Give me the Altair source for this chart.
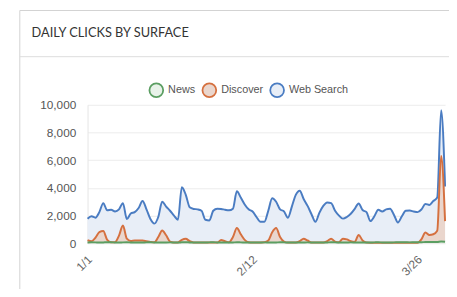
import altair as alt
import pandas as pd

# ---- data -------------------------------------------------------------
dates = [d.strftime("%Y/%m/%d") for d in pd.date_range("2023-01-01", periods=92)]

web_search = [
    1770, 1950, 1850, 2250, 2900, 2380, 2420, 2300, 2450, 2900,
    1750, 2150, 2250, 2550, 3050, 2450, 1750, 1420, 1900, 3000,
    2650, 2350, 2000, 1700, 4050, 3500, 2600, 2480, 2450, 2350,
    1700, 1650, 2350, 2500, 2480, 2420, 2380, 2500, 3750, 3300,
    2800, 2450, 2300, 1900, 1550, 1550, 2350, 3250, 3000, 2450,
    2300, 1850, 2650, 3500, 3800, 3200, 2700, 2100, 1550, 2200,
    2700, 2950, 2900, 2350, 2000, 1780, 1900, 2130, 2480, 2880,
    2400, 2250, 1600, 1950, 2420, 2300, 2450, 2500, 2050, 1500,
    1950, 2350, 2360, 2300, 2250, 2450, 2840, 2770, 3050, 3300,
    9600, 4100,
]
discover = [
    230, 150, 400, 800, 880, 250, 80, 80, 550, 1280,
    330, 170, 200, 200, 200, 150, 100, 70, 450, 920,
    580, 120, 60, 60, 250, 320, 150, 60, 50, 50,
    50, 50, 50, 50, 230, 150, 80, 450, 1100, 650,
    250, 80, 50, 60, 60, 70, 200, 800, 1100, 450,
    120, 50, 50, 50, 150, 330, 200, 60, 50, 50,
    50, 150, 330, 120, 80, 330, 280, 150, 100, 600,
    200, 50, 40, 40, 40, 40, 40, 40, 40, 40,
    40, 40, 40, 40, 40, 300, 780, 600, 650, 900,
    6300, 1600,
]
news = [
    60, 70, 65, 55, 60, 75, 70, 60, 55, 65,
    70, 60, 55, 50, 60, 65, 70, 60, 55, 50,
    60, 65, 60, 55, 70, 75, 60, 55, 50, 55,
    60, 65, 70, 60, 55, 50, 55, 60, 70, 65,
    60, 55, 50, 55, 60, 65, 60, 55, 60, 70,
    65, 60, 55, 50, 55, 60, 65, 60, 55, 50,
    55, 60, 70, 65, 60, 55, 60, 65, 60, 55,
    50, 55, 60, 65, 70, 60, 55, 60, 65, 70,
    75, 70, 65, 70, 75, 80, 85, 90, 95, 100,
    130, 110,
]

series_names = ["News", "Discover", "Web Search"]
line_colors = ["#5b9e62", "#d5703f", "#4a7cc2"]
fill_colors = ["#e8f2e9", "#ead6cd", "#e8eef7"]
y_ticks = [0, 2000, 4000, 6000, 8000, 10000]
title_text = "DAILY CLICKS BY SURFACE"

rows = []
for name, vals in zip(series_names, [news, discover, web_search]):
    for d, v in zip(dates, vals):
        rows.append({"date": d, "series": name, "value": v})
df = pd.DataFrame(rows)

# ---- encodings ----------------------------------------------------------
legend = alt.Legend(
    orient="none", legendX=62, legendY=-23, direction="horizontal", title=None,
    symbolType="circle", symbolSize=196, symbolStrokeWidth=1.8,
    labelFont="Liberation Sans", labelFontSize=11, labelColor="#555",
    columnPadding=3, labelOffset=4,
)

x_enc = alt.X(
    "date:T",
    title=None,
    axis=alt.Axis(
        values=[alt.DateTime(year=2023, month=1, date=1),
                alt.DateTime(year=2023, month=2, date=12),
                alt.DateTime(year=2023, month=3, date=26)],
        format="%-m/%-d", labelAngle=315, labelAlign="right", labelBaseline="middle",
        labelPadding=14, labelOffset=2, ticks=False, tickSize=0, grid=False, domain=False,
        labelFont="Liberation Sans", labelFontSize=12, labelColor="#666",
    ),
)
y_enc = alt.Y(
    "value:Q",
    title=None,
    stack=None,
    scale=alt.Scale(domain=[0, 10000]),
    axis=alt.Axis(
        values=y_ticks, format=",.0f", grid=True, gridColor="#ececec",
        domainColor="#e6e6e6", ticks=False, tickSize=0, labelPadding=12,
        labelOverlap=False,
        labelFont="Liberation Sans", labelFontSize=12, labelColor="#555",
    ),
)
fill_enc = alt.Fill("series:N", scale=alt.Scale(domain=series_names, range=fill_colors), legend=legend)
stroke_enc = alt.Stroke("series:N", scale=alt.Scale(domain=series_names, range=line_colors), legend=legend)

base = alt.Chart(df)

def area(name):
    return base.transform_filter(alt.datum.series == name).mark_area(
        interpolate="monotone", fillOpacity=1
    ).encode(x=x_enc, y=y_enc, fill=fill_enc)

def line(name):
    return base.transform_filter(alt.datum.series == name).mark_line(
        interpolate="monotone", strokeWidth=2
    ).encode(x=x_enc, y=y_enc, stroke=stroke_enc)

# ---- card decoration ---------------------------------------------------
deco = alt.Chart(alt.Data(values=[{}]))
left_border = deco.mark_rule(color="#d2d2d2").encode(
    x=alt.value(-69), y=alt.value(-96), y2=alt.value(200))
top_border = deco.mark_rule(color="#d2d2d2").encode(
    x=alt.value(-69), x2=alt.value(380), y=alt.value(-96))
divider = deco.mark_rule(color="#dcdcdc").encode(
    x=alt.value(-69), x2=alt.value(380), y=alt.value(-49))
title = deco.mark_text(
    align="left", baseline="middle", font="Lato", fontSize=13, color="#333",
    text=title_text,
).encode(x=alt.value(-57), y=alt.value(-73))

chart = alt.layer(
    left_border, top_border, divider, title,
    area("Web Search"), area("Discover"), area("News"),
    line("Web Search"), line("Discover"), line("News"),
).properties(
    width=364, height=141,
    autosize="none",
    padding={"left": 81, "top": 96, "right": 4, "bottom": 44},
    background="white",
).configure_view(stroke=None)

chart.save("out.html", embed_options={"renderer": "svg", "actions": False})
